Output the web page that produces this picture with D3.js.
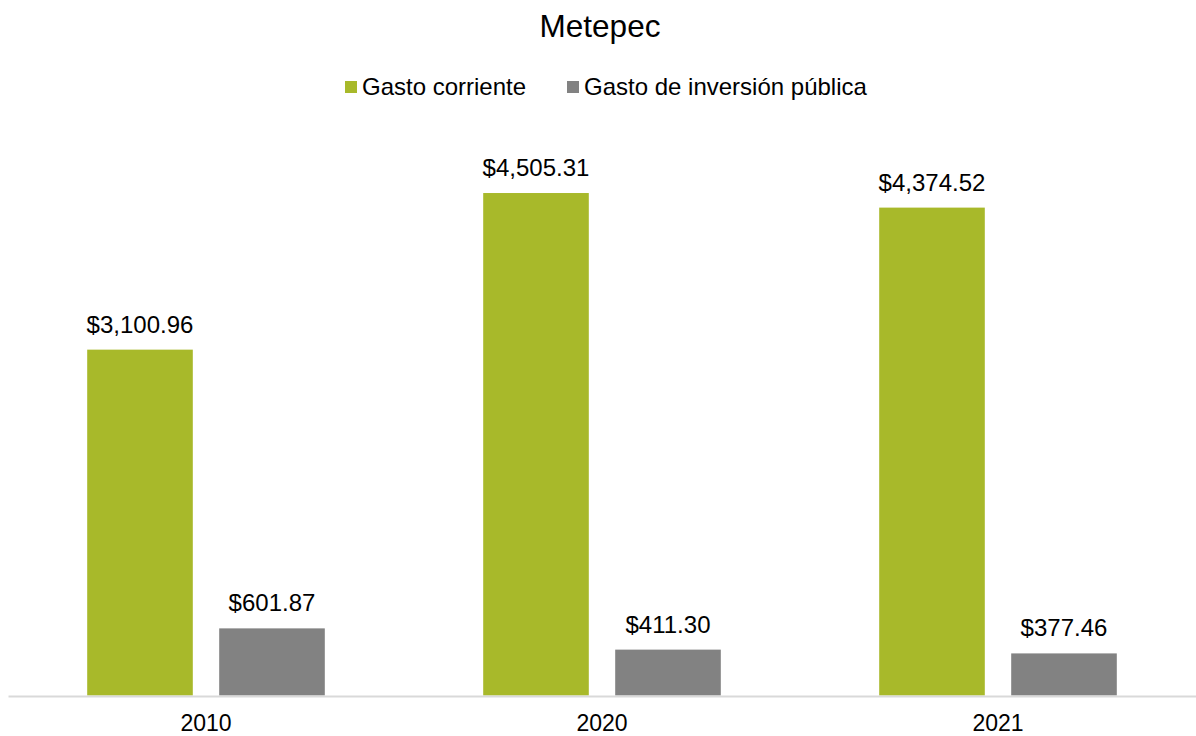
<!DOCTYPE html>
<html>
<head>
<meta charset="utf-8">
<script src="https://cdn.jsdelivr.net/npm/d3@7"></script>
<style>
  body { margin: 0; background: #fff; }
  text { font-family: "Liberation Sans", Arial, sans-serif; fill: #000; }
</style>
</head>
<body>
<div id="chart"></div>
<script>
const years = ['2010', '2020', '2021'];
const seriesNames = ['Gasto corriente', 'Gasto de inversión pública'];
const gastoCorriente = [3100.96, 4505.31, 4374.52];
const gastoInversion = [601.87, 411.30, 377.46];
const seriesColors = ['#A8B92A', '#828282'];

const width = 1196;
const height = 736;
const baseline = 695.5;

let svg = d3.select('#chart').append('svg')
    .attr('width', width)
    .attr('height', height);

let data = years.map((year, i) => ({
    year: year,
    values: [gastoCorriente[i], gastoInversion[i]]
}));

let x0 = d3.scaleBand().domain(years).range([8, 1196]);
let x1 = d3.scaleBand().domain(d3.range(seriesNames.length))
    .range([0, x0.bandwidth()])
    .paddingInner(0.2)
    .paddingOuter(0.6);
let y = d3.scaleLinear().domain([0, 5000]).range([baseline, baseline - 5000 * 0.11153]);

let fmt = d3.format('$,.2f');

// title
svg.append('text')
    .attr('x', width / 2 + 2)
    .attr('y', 37)
    .attr('text-anchor', 'middle')
    .style('font-size', '31.5px')
    .text('Metepec');

// legend
let legendPos = [345, 567];
let legend = svg.selectAll('.legend')
    .data(seriesNames)
    .enter().append('g')
    .attr('class', 'legend')
    .attr('transform', (d, i) => 'translate(' + legendPos[i] + ',0)');

legend.append('rect')
    .attr('y', 81)
    .attr('width', 12)
    .attr('height', 12)
    .style('fill', (d, i) => seriesColors[i]);

legend.append('text')
    .attr('x', 17)
    .attr('y', 95)
    .style('font-size', '24px')
    .text(d => d);

// bars
let groups = svg.selectAll('.group')
    .data(data)
    .enter().append('g')
    .attr('class', 'group')
    .attr('transform', d => 'translate(' + x0(d.year) + ',0)');

groups.selectAll('.bar')
    .data(d => d.values)
    .enter().append('rect')
    .attr('class', 'bar')
    .attr('x', (d, i) => x1(i))
    .attr('y', d => y(d))
    .attr('width', x1.bandwidth())
    .attr('height', d => baseline - y(d))
    .style('fill', (d, i) => seriesColors[i]);

groups.selectAll('.label')
    .data(d => d.values)
    .enter().append('text')
    .attr('class', 'label')
    .attr('x', (d, i) => x1(i) + x1.bandwidth() / 2)
    .attr('y', d => y(d) - 17)
    .attr('text-anchor', 'middle')
    .style('font-size', '24px')
    .text(d => fmt(d));

// axis
let xAxis = svg.append('g')
    .attr('transform', 'translate(0,' + 696 + ')')
    .call(d3.axisBottom(x0).tickSize(0).tickPadding(0));

xAxis.select('.domain')
    .attr('stroke', '#D9D9D9')
    .attr('stroke-width', 2);

xAxis.selectAll('.tick text')
    .attr('y', 35)
    .attr('dy', 0)
    .style('font-size', '23px')
    .style('font-family', '"Liberation Sans", Arial, sans-serif')
    .style('fill', '#000');
</script>
</body>
</html>
